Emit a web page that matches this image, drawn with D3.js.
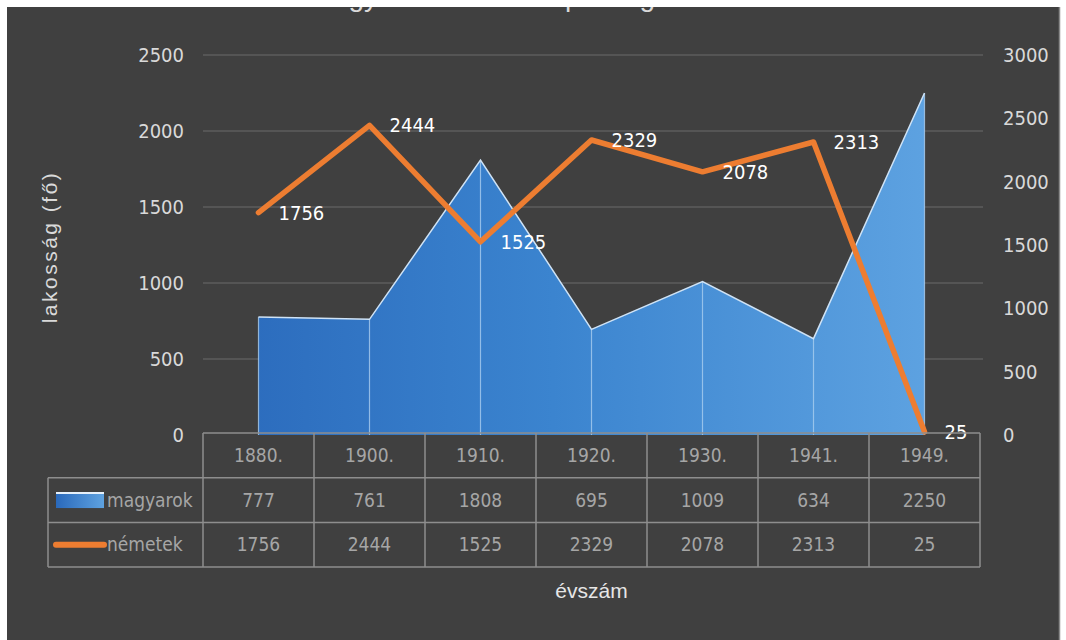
<!DOCTYPE html>
<html>
<head>
<meta charset="utf-8">
<script src="https://cdn.jsdelivr.net/npm/d3@7"></script>
<style>
  body { margin: 0; background: #ffffff; }
  svg { display: block; }
</style>
</head>
<body>
<div id="chart"></div>
<script>
// data
var years = ["1880.", "1900.", "1910.", "1920.", "1930.", "1941.", "1949."];
var magyarok = [777, 761, 1808, 695, 1009, 634, 2250];
var nemetek = [1756, 2444, 1525, 2329, 2078, 2313, 25];
var leftTicks = [0, 500, 1000, 1500, 2000, 2500];
var rightTicks = [0, 500, 1000, 1500, 2000, 2500, 3000];
var seriesNames = ["magyarok", "németek"];

var width = 1066, height = 640;
var plot = { left: 203, right: 980, top: 55, bottom: 435 };
var font = "'Liberation Sans', Arial, sans-serif";
var narrow = "'DejaVu Sans Condensed', 'Liberation Sans', sans-serif";

var svg = d3.select("#chart").append("svg")
    .attr("width", width)
    .attr("height", height);

// chart background
svg.append("rect")
    .attr("x", 7).attr("y", 7)
    .attr("width", 1052).attr("height", height - 7)
    .attr("fill", "#404040");
svg.append("line")
    .attr("x1", 1059.5).attr("x2", 1059.5)
    .attr("y1", 7).attr("y2", height)
    .attr("stroke", "#8a8a8a").attr("stroke-width", 1.5);

// scales
var x = d3.scaleBand()
    .domain(years)
    .range([plot.left, plot.right])
    .padding(0);
var cx = function (d, i) { return x(years[i]) + x.bandwidth() / 2; };

var yLeft = d3.scaleLinear().domain([0, 2500]).range([plot.bottom, plot.top]);
var yRight = d3.scaleLinear().domain([0, 3000]).range([plot.bottom, plot.top]);

// gridlines (left axis)
svg.append("g")
    .selectAll("line")
    .data(leftTicks.filter(function (d) { return d > 0; }))
    .join("line")
    .attr("x1", plot.left).attr("x2", plot.right + 3)
    .attr("y1", function (d) { return yLeft(d); })
    .attr("y2", function (d) { return yLeft(d); })
    .attr("stroke", "#5c5c5c")
    .attr("stroke-width", 1.5);

// left axis
var leftAxis = svg.append("g")
    .attr("transform", "translate(184,0)")
    .call(d3.axisLeft(yLeft).tickValues(leftTicks).tickFormat(d3.format("d"))
        .tickSize(0).tickPadding(0));
leftAxis.select(".domain").remove();
leftAxis.selectAll("text")
    .attr("fill", "#d9d9d9")
    .style("font-family", narrow)
    .style("font-size", "20px");

// right axis
var rightAxis = svg.append("g")
    .attr("transform", "translate(1003,0)")
    .call(d3.axisRight(yRight).tickValues(rightTicks).tickFormat(d3.format("d"))
        .tickSize(0).tickPadding(0));
rightAxis.select(".domain").remove();
rightAxis.selectAll("text")
    .attr("fill", "#d9d9d9")
    .style("font-family", narrow)
    .style("font-size", "20px");

// gradient for the area
var defs = svg.append("defs");
var grad = defs.append("linearGradient")
    .attr("id", "areaGrad")
    .attr("gradientUnits", "userSpaceOnUse")
    .attr("x1", plot.left).attr("x2", plot.right)
    .attr("y1", 0).attr("y2", 0);
grad.append("stop").attr("offset", "0%").attr("stop-color", "#2a69bb");
grad.append("stop").attr("offset", "45%").attr("stop-color", "#3b84cf");
grad.append("stop").attr("offset", "100%").attr("stop-color", "#62a6e3");

// magyarok area
var area = d3.area()
    .x(function (d, i) { return cx(d, i); })
    .y0(plot.bottom)
    .y1(function (d) { return yLeft(d); });

svg.append("path")
    .datum(magyarok)
    .attr("d", area)
    .attr("fill", "url(#areaGrad)");

svg.append("g")
    .selectAll("line")
    .data(magyarok)
    .join("line")
    .attr("x1", cx).attr("x2", cx)
    .attr("y1", function (d) { return yLeft(d); })
    .attr("y2", plot.bottom)
    .attr("stroke", "#a9cdef")
    .attr("stroke-opacity", 0.8)
    .attr("stroke-width", 1.2);

svg.append("path")
    .datum(magyarok)
    .attr("d", d3.line().x(cx).y(function (d) { return yLeft(d); }))
    .attr("fill", "none")
    .attr("stroke", "#cfe3f6")
    .attr("stroke-width", 1.5);

// németek line
svg.append("path")
    .datum(nemetek)
    .attr("d", d3.line().x(cx).y(function (d) { return yRight(d); }))
    .attr("fill", "none")
    .attr("stroke", "#ed7d31")
    .attr("stroke-width", 5.5)
    .attr("stroke-linejoin", "round")
    .attr("stroke-linecap", "round");

// data labels
svg.append("g")
    .selectAll("text")
    .data(nemetek)
    .join("text")
    .attr("x", function (d, i) { return cx(d, i) + 20; })
    .attr("y", function (d) { return yRight(d); })
    .attr("dy", "0.35em")
    .attr("fill", "#ffffff")
    .style("font-family", narrow)
    .style("font-size", "20px")
    .text(function (d) { return d; });

// data table
var table = { top: 433, rowH: 44.7, left: 48 };
var tableColor = "#8e8e8e";
var g = svg.append("g");

// horizontal lines
g.append("line")
    .attr("x1", plot.left).attr("x2", plot.right)
    .attr("y1", table.top).attr("y2", table.top);
[1, 2, 3].forEach(function (r) {
    g.append("line")
        .attr("x1", table.left).attr("x2", plot.right)
        .attr("y1", table.top + r * table.rowH)
        .attr("y2", table.top + r * table.rowH);
});
// vertical lines
years.forEach(function (yr) {
    g.append("line")
        .attr("x1", x(yr)).attr("x2", x(yr))
        .attr("y1", table.top).attr("y2", table.top + 3 * table.rowH);
});
g.append("line")
    .attr("x1", plot.right).attr("x2", plot.right)
    .attr("y1", table.top).attr("y2", table.top + 3 * table.rowH);
g.append("line")
    .attr("x1", table.left).attr("x2", table.left)
    .attr("y1", table.top + table.rowH).attr("y2", table.top + 3 * table.rowH);
g.selectAll("line")
    .attr("stroke", tableColor)
    .attr("stroke-width", 1.5);

// table texts
var rows = [years, magyarok, nemetek];
rows.forEach(function (row, r) {
    g.append("g")
        .selectAll("text")
        .data(row)
        .join("text")
        .attr("x", function (d, i) { return cx(d, i); })
        .attr("y", table.top + (r + 0.5) * table.rowH)
        .attr("dy", "0.35em")
        .attr("text-anchor", "middle")
        .attr("fill", "#a6a6a6")
        .style("font-family", narrow)
        .style("font-size", "19px")
        .text(function (d) { return d; });
});

// legend keys in the table
var legGrad = defs.append("linearGradient")
    .attr("id", "legGrad")
    .attr("x1", 0).attr("x2", 1).attr("y1", 0).attr("y2", 0);
legGrad.append("stop").attr("offset", "0%").attr("stop-color", "#2a69bb");
legGrad.append("stop").attr("offset", "100%").attr("stop-color", "#5ea2e0");

var row1 = table.top + 1.5 * table.rowH;
var row2 = table.top + 2.5 * table.rowH;
g.append("rect")
    .attr("x", 56).attr("y", row1 - 8)
    .attr("width", 48).attr("height", 16)
    .attr("fill", "url(#legGrad)");
g.append("line")
    .attr("x1", 56).attr("x2", 104)
    .attr("y1", row1 - 7).attr("y2", row1 - 7)
    .attr("stroke", "#e6f0fa").attr("stroke-width", 2);
g.append("line")
    .attr("x1", 56).attr("x2", 104)
    .attr("y1", row2).attr("y2", row2)
    .attr("stroke", "#ed7d31").attr("stroke-width", 6)
    .attr("stroke-linecap", "round");

g.append("g")
    .selectAll("text")
    .data(seriesNames)
    .join("text")
    .attr("x", 107)
    .attr("y", function (d, i) { return i === 0 ? row1 : row2; })
    .attr("dy", "0.35em")
    .attr("fill", "#a6a6a6")
    .style("font-family", narrow)
    .style("font-size", "19px")
    .text(function (d) { return d; });

// axis titles
svg.append("text")
    .attr("transform", "translate(57,247) rotate(-90)")
    .attr("text-anchor", "middle")
    .attr("fill", "#d9d9d9")
    .style("font-family", font)
    .style("font-size", "21px")
    .style("letter-spacing", "2.5px")
    .text("lakosság (fő)");

svg.append("text")
    .attr("x", (plot.left + plot.right) / 2)
    .attr("y", 598)
    .attr("text-anchor", "middle")
    .attr("fill", "#e6e6e6")
    .style("font-family", font)
    .style("font-size", "21px")
    .text("évszám");

// title, mostly cut off by the top edge as in the source
svg.append("text")
    .attr("x", 533)
    .attr("y", 6)
    .attr("text-anchor", "middle")
    .attr("fill", "#d9d9d9")
    .style("font-family", font)
    .style("font-size", "28px")
    .text("A magyar és német népesség alakulása");

svg.append("rect")
    .attr("x", 0).attr("y", 0)
    .attr("width", width).attr("height", 7)
    .attr("fill", "#ffffff");
</script>
</body>
</html>
